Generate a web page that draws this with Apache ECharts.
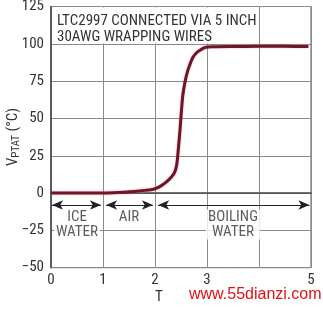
<!DOCTYPE html>
<html><head><meta charset="utf-8">
<script src="https://cdn.jsdelivr.net/npm/echarts@6/dist/echarts.min.js"></script>
<style>html,body{margin:0;padding:0;background:#fff}#c{width:323px;height:309px}</style>
</head><body><div id="c"></div>
<script>
// Data
var timeX = [0,0.5,1,1.2,1.4,1.6,1.8,1.97,2.1,2.22,2.32,2.38,2.42,2.45,2.48,2.53,2.58,2.63,2.67,2.73,2.8,2.88,2.96,3.1,3.5,4,4.5,4.95];
var vptat = [0,0,0,0.2,0.6,1.1,1.8,2.6,4.5,7.5,11,14,19.5,30,42,64,75,82,86,91,94,96,97.5,98,98.2,98.3,98.3,98.2];
var xTickLabels = ['0','1','2','3','','5'];
var phaseNames = ['ICE\nWATER','AIR','BOILING\nWATER'];
var phaseStart = [0.02,1.06,2.06];
var phaseEnd = [0.96,1.96,4.97];
var phaseLabelX = [0.5,1.5,3.5];
var phaseLabelY = [-21,-16,-21];
var arrowY = -8;

var FONT = '"Roboto Condensed","DejaVu Sans Condensed",sans-serif';
var TXT = '#333';

var arrowLines = phaseStart.map(function(s,i){
  return [{coord:[s,arrowY]},{coord:[phaseEnd[i],arrowY]}];
});
var phaseLabelData = phaseNames.map(function(n,i){ return {value:[phaseLabelX[i],phaseLabelY[i]], name:n}; });

var chart = echarts.init(document.getElementById('c'), null, {renderer:'canvas'});
chart.setOption({
  animation:false,
  backgroundColor:'#fff',
  grid:{left:51,right:12,top:6.5,bottom:41.3,show:true,borderColor:'#555',borderWidth:1,
    containLabel:false,outerBoundsMode:'none'},
  xAxis:{type:'value',min:0,max:5,interval:1,
    axisLine:{show:true,lineStyle:{color:'#444',width:1.5}},
    axisTick:{show:false},
    splitLine:{show:true,lineStyle:{color:'#8a8a8a',width:1}},
    axisLabel:{color:TXT,fontFamily:FONT,fontSize:15,margin:5,
      formatter:function(v){return xTickLabels[Math.round(v)];}}
  },
  yAxis:{type:'value',min:-50,max:125,interval:25,
    name:'{v|V}{s|PTAT}{v| (°C)}',nameLocation:'middle',nameGap:29,nameRotate:90,nameMoveOverlap:false,
    nameTextStyle:{rich:{v:{fontFamily:FONT,fontSize:15,color:TXT},s:{fontFamily:FONT,fontSize:11,color:TXT,verticalAlign:'bottom',padding:[6,0,0,0]}}},
    axisLine:{show:true,lineStyle:{color:'#444',width:1.5}},
    axisTick:{show:false},
    splitLine:{show:true,lineStyle:{color:'#8a8a8a',width:1}},
    axisLabel:{color:TXT,fontFamily:FONT,fontSize:15,margin:7,
      formatter:function(v){return v<0?'\u2212'+(-v):String(v);}}
  },
  graphic:[
    {type:'rect',left:52,top:7.5,z:50,shape:{width:200,height:36},style:{fill:'#fff'}},
    {type:'text',left:57,top:13,z:51,style:{text:'LTC2997 CONNECTED VIA 5 INCH\n30AWG WRAPPING WIRES',font:'15px '+FONT,fill:TXT,lineHeight:16}},
    {type:'text',left:155,top:290,z:51,style:{text:'T',font:'15px '+FONT,fill:TXT}},
    {type:'text',left:189,top:287,z:51,style:{text:'www.55dianzi.com',font:'16px "Liberation Sans",Arial,sans-serif',fill:'#e01010'}}
  ],
  series:[
    {type:'line',data:timeX.map(function(x,i){return [x,vptat[i]];}),
      showSymbol:false,smooth:0.25,z:5,
      lineStyle:{color:'#6e1628',width:3,shadowColor:'rgba(230,110,130,0.6)',shadowBlur:2}},
    {type:'scatter',data:phaseLabelData,symbolSize:0,z:6,
      label:{show:true,position:'inside',formatter:function(p){return p.name;},
        color:TXT,fontFamily:FONT,fontSize:15,lineHeight:15,backgroundColor:'#fff',padding:[0,2]},
      markLine:{silent:true,symbol:['arrow','arrow'],symbolSize:[7,11],
        lineStyle:{color:'#222',width:1,type:'solid'},label:{show:false},data:arrowLines}}
  ]
});
</script></body></html>
